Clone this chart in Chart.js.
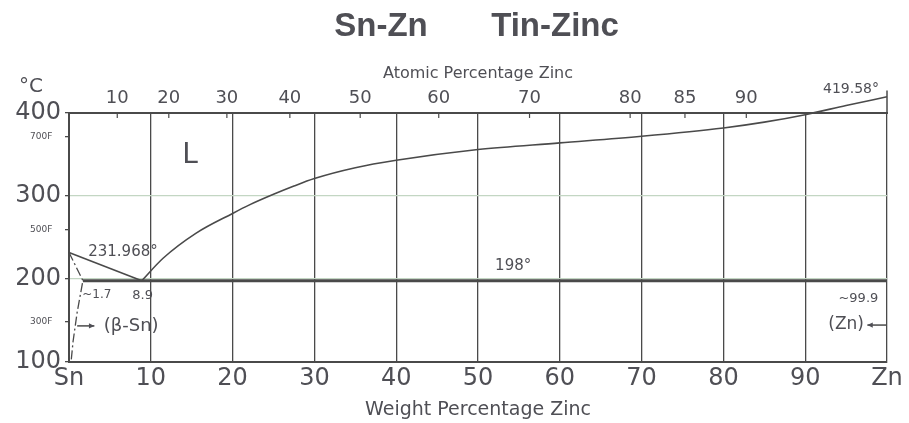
<!DOCTYPE html>
<html>
<head>
<meta charset="utf-8">
<title>Sn-Zn Tin-Zinc</title>
<script src="https://cdn.jsdelivr.net/npm/chart.js@4.4.0/dist/chart.umd.min.js"></script>
<style>
    body { margin: 0; background: #ffffff; }
    canvas { display: block; }
</style>
</head>
<body>
<canvas id="grafico" width="909" height="423"></canvas>
<script>
// liquidus do lado do Sn (wt% Zn, graus C)
var liqSnWt = [0, 8.9];
var liqSnT = [231.968, 198];

// liquidus do lado do Zn
var liqZnWt = [8.9, 11.5, 15.5, 20, 22, 25, 27.5, 30, 35, 40, 50, 60, 70, 80, 85, 90, 95, 100];
var liqZnT = [198, 225, 255, 279, 289, 302, 312, 321, 334, 343, 356, 364, 372, 382, 389, 398, 409, 419.58];

// solidus + solvus do (beta-Sn), tracejado
var solSnWt = [0, 1.7, 1.0, 0.5, 0.25];
var solSnT = [231.968, 198, 160, 125, 100];

// linha do eutetico
var eutWt = [1.7, 99.9];
var eutT = [198, 198];

// borda do Zn que passa de 400
var znWt = [100, 100];
var znT = [400, 427];

// eixos
var wtTicks = [0, 10, 20, 30, 40, 50, 60, 70, 80, 90, 100];
var atTicks = [10, 20, 30, 40, 50, 60, 70, 80, 85, 90];
var atPosWt = [5.9, 12.2, 19.3, 27.0, 35.6, 45.2, 56.3, 68.6, 75.3, 82.8];
var cTicks = [100, 200, 300, 400];
var fLabels = ['300F', '500F', '700F'];
var fPosC = [148.9, 260, 371.1];

var fonte = '"DejaVu Sans", sans-serif';
var corTexto = '#4f4f55';
var corLinha = '#4a4a4a';
var corVerde = '#c3d6c3';

function pontos(xs, ys) {
    var lista = [];
    for (var i = 0; i < xs.length; i++) {
        lista.push({ x: xs[i], y: ys[i] });
    }
    return lista;
}

function ehF(v) {
    return fPosC.indexOf(v) >= 0;
}

function seta(ctx, x1, y1, x2, y2) {
    var ang = Math.atan2(y2 - y1, x2 - x1);
    ctx.beginPath();
    ctx.moveTo(x1, y1);
    ctx.lineTo(x2, y2);
    ctx.stroke();
    ctx.beginPath();
    ctx.moveTo(x2, y2);
    ctx.lineTo(x2 - 6 * Math.cos(ang - 0.45), y2 - 6 * Math.sin(ang - 0.45));
    ctx.lineTo(x2 - 6 * Math.cos(ang + 0.45), y2 - 6 * Math.sin(ang + 0.45));
    ctx.closePath();
    ctx.fill();
}

// textos dentro do grafico: [texto, wt%, graus C, tamanho]
var textos = [
    ['L', 14.8, 348, 28],
    ['231.968\u00b0', 6.6, 232.5, 15],
    ['198\u00b0', 54.3, 215.5, 15],
    ['~1.7', 3.4, 180.5, 12],
    ['8.9', 9.0, 180.5, 13],
    ['(\u03b2-Sn)', 7.6, 143.5, 18],
    ['~99.9', 96.5, 176, 13],
    ['(Zn)', 95.0, 144.5, 17],
    ['419.58\u00b0', 95.6, 429, 14]
];

var anotacoes = {
    id: 'anotacoes',
    afterDraw: function (chart) {
        var ctx = chart.ctx;
        var sx = chart.scales.x;
        var sy = chart.scales.y;
        var area = chart.chartArea;
        ctx.save();
        ctx.fillStyle = corTexto;
        ctx.strokeStyle = corLinha;
        ctx.textAlign = 'center';
        ctx.textBaseline = 'middle';

        // titulo
        var meio = (area.left + area.right) / 2;
        ctx.font = 'bold 33px "Liberation Sans", sans-serif';
        ctx.fillText('Sn-Zn', meio - 97, 27);
        ctx.fillText('Tin-Zinc', meio + 77, 27);

        ctx.font = '20px ' + fonte;
        ctx.fillText('\u00b0C', area.left - 38, sy.getPixelForValue(431));

        for (var i = 0; i < textos.length; i++) {
            var t = textos[i];
            ctx.font = t[3] + 'px ' + fonte;
            ctx.fillText(t[0], sx.getPixelForValue(t[1]), sy.getPixelForValue(t[2]));
        }

        ctx.lineWidth = 1.5;
        seta(ctx, sx.getPixelForValue(1.0), sy.getPixelForValue(143.5), sx.getPixelForValue(3.1), sy.getPixelForValue(143.5));
        seta(ctx, sx.getPixelForValue(100), sy.getPixelForValue(144.5), sx.getPixelForValue(97.6), sy.getPixelForValue(144.5));

        // marquinhas do eixo atomico, para dentro
        var s2 = chart.scales.x2;
        ctx.lineWidth = 1.2;
        for (var j = 0; j < s2.ticks.length; j++) {
            var px = s2.getPixelForValue(s2.ticks[j].value);
            ctx.beginPath();
            ctx.moveTo(px, area.top);
            ctx.lineTo(px, area.top + 5);
            ctx.stroke();
        }
        ctx.restore();
    }
};

function linha(dados, largura, tracejado, suave) {
    return {
        data: dados,
        showLine: true,
        borderColor: corLinha,
        borderWidth: largura,
        borderDash: tracejado,
        pointRadius: 0,
        fill: false,
        clip: false,
        cubicInterpolationMode: suave ? 'monotone' : 'default',
        tension: 0
    };
}

const ctx = document.getElementById('grafico');
new Chart(ctx, {
    type: 'scatter',
    data: {
        datasets: [
            linha(pontos(liqSnWt, liqSnT), 1.6, [], false),
            linha(pontos(liqZnWt, liqZnT), 1.6, [], true),
            linha(pontos(solSnWt, solSnT), 1.3, [9, 3, 2, 3], false),
            linha(pontos(eutWt, eutT), 3, [], false),
            linha(pontos(znWt, znT), 1.5, [], false)
        ]
    },
    options: {
        responsive: false,
        devicePixelRatio: 1,
        animation: false,
        layout: { padding: { left: 0, right: 22, top: 0, bottom: 0 } },
        plugins: {
            legend: { display: false },
            tooltip: { enabled: false }
        },
        scales: {
            x: {
                type: 'linear',
                position: 'bottom',
                min: 0,
                max: 100,
                afterBuildTicks: function (s) {
                    s.ticks = wtTicks.map(function (v) { return { value: v }; });
                },
                ticks: {
                    autoSkip: false,
                    maxRotation: 0,
                    padding: 2,
                    color: corTexto,
                    font: { family: fonte, size: 24 },
                    callback: function (v) {
                        if (v === 0) return 'Sn';
                        if (v === 100) return 'Zn';
                        return String(v);
                    }
                },
                grid: { color: corLinha, lineWidth: 1.3, drawTicks: false },
                border: { display: true, color: corLinha, width: 2 },
                title: {
                    display: true,
                    text: 'Weight Percentage Zinc',
                    color: corTexto,
                    font: { family: fonte, size: 19 },
                    padding: { top: 0, bottom: 2 }
                },
                afterFit: function (s) {
                    s.height = 61;
                    s.paddingLeft = 0;
                    s.paddingRight = 0;
                }
            },
            x2: {
                type: 'linear',
                position: 'top',
                min: 0,
                max: 100,
                afterBuildTicks: function (s) {
                    s.ticks = atPosWt.map(function (v) { return { value: v }; });
                },
                ticks: {
                    autoSkip: false,
                    maxRotation: 0,
                    padding: 4,
                    color: corTexto,
                    font: { family: fonte, size: 18 },
                    callback: function (v, i) {
                        return String(atTicks[i]);
                    }
                },
                grid: { drawOnChartArea: false, drawTicks: false },
                border: { display: true, color: corLinha, width: 2 },
                title: {
                    display: true,
                    text: 'Atomic Percentage Zinc',
                    color: corTexto,
                    font: { family: fonte, size: 16 },
                    padding: { top: 64, bottom: 0 }
                },
                afterFit: function (s) {
                    s.height = 113;
                    s.paddingLeft = 0;
                    s.paddingRight = 0;
                }
            },
            y: {
                type: 'linear',
                min: 100,
                max: 400,
                afterBuildTicks: function (s) {
                    var v = cTicks.concat(fPosC).sort(function (a, b) { return a - b; });
                    s.ticks = v.map(function (n) { return { value: n }; });
                },
                ticks: {
                    autoSkip: false,
                    padding: 4,
                    color: corTexto,
                    font: function (c) {
                        var f = c.tick && ehF(c.tick.value);
                        return { family: fonte, size: f ? 9 : 24 };
                    },
                    callback: function (v) {
                        var k = fPosC.indexOf(v);
                        if (k >= 0) return fLabels[k] + '   ';
                        return String(v);
                    }
                },
                grid: {
                    lineWidth: 1.3,
                    tickLength: 4,
                    tickColor: corLinha,
                    color: function (c) {
                        var v = c.tick ? c.tick.value : 0;
                        if (ehF(v)) return 'rgba(0,0,0,0)';
                        if (v === 200 || v === 300) return corVerde;
                        return corLinha;
                    }
                },
                border: { display: true, color: corLinha, width: 2 },
                afterFit: function (s) {
                    s.width = 69;
                    s.paddingTop = 0;
                    s.paddingBottom = 0;
                }
            }
        }
    },
    plugins: [anotacoes]
});
</script>
</body>
</html>
